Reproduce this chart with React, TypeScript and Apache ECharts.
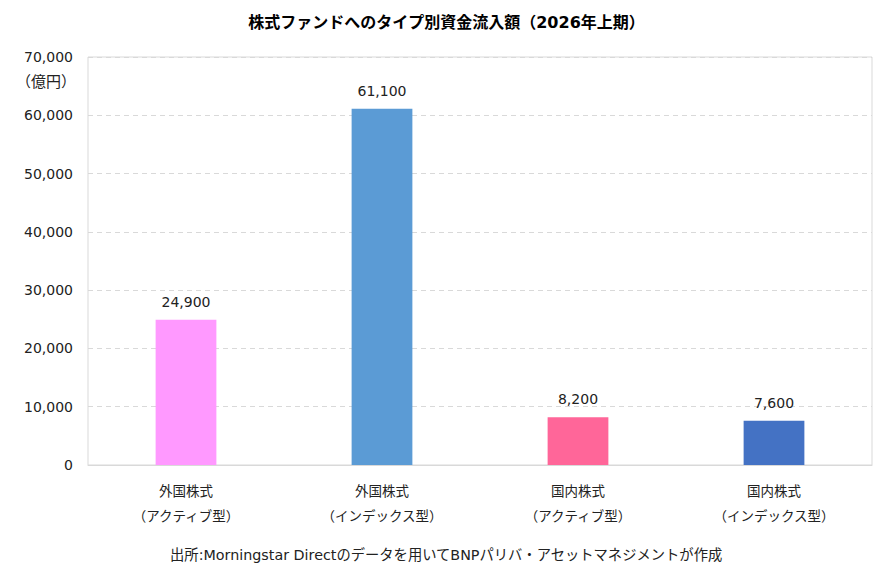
import React, { useEffect, useRef } from "react";
import * as echarts from "echarts";

const categories = [
  "外国株式\n（アクティブ型）",
  "外国株式\n（インデックス型）",
  "国内株式\n（アクティブ型）",
  "国内株式\n（インデックス型）",
];
const values = [24900, 61100, 8200, 7600];
const barColors = ["#FF99FF", "#5B9BD5", "#FF6699", "#4472C4"];

const FONT = "'DejaVu Sans', 'Noto Sans CJK JP', sans-serif";
const CJK = "'Noto Sans CJK JP', 'DejaVu Sans', sans-serif";

export default function App() {
  const ref = useRef<HTMLDivElement>(null);
  useEffect(() => {
    if (!ref.current) return;
    const chart = echarts.init(ref.current, undefined, { renderer: "svg" });
    chart.setOption({
      animation: false,
      backgroundColor: "#fff",
      textStyle: { fontFamily: FONT },
      title: {
        text: "株式ファンドへのタイプ別資金流入額（2026年上期）",
        left: "center",
        top: 9,
        textStyle: { fontSize: 16, fontWeight: "bold", color: "#000", fontFamily: FONT },
      },
      grid: {
        left: 88,
        right: 21,
        top: 57,
        bottom: 111,
        show: true,
        borderColor: "#d9d9d9",
        borderWidth: 1,
      },
      xAxis: {
        type: "category",
        data: categories,
        axisLine: { show: true, lineStyle: { color: "#d9d9d9" } },
        axisTick: { show: false },
        axisLabel: {
          color: "#222",
          fontSize: 13.5,
          lineHeight: 25,
          margin: 12,
          fontFamily: CJK,
        },
      },
      yAxis: {
        type: "value",
        min: 0,
        max: 70000,
        interval: 10000,
        axisLine: { show: false },
        axisTick: { show: false },
        splitLine: { lineStyle: { color: "#d9d9d9", type: [5, 4] } },
        axisLabel: {
          color: "#222",
          fontSize: 14,
          margin: 15,
          fontFamily: FONT,
          formatter: (v: number) => v.toLocaleString("en-US"),
        },
      },
      series: [
        {
          type: "bar",
          data: values.map((v, i) => ({ value: v, itemStyle: { color: barColors[i] } })),
          barWidth: "31%",
          label: {
            show: true,
            position: "top",
            distance: 11,
            color: "#222",
            fontSize: 14,
            fontFamily: FONT,
            formatter: (p: any) => Number(p.value).toLocaleString("en-US"),
          },
        },
      ],
      graphic: [
        {
          type: "text",
          right: 893 - 76,
          top: 73,
          style: { text: "（億円）", fontSize: 15, fill: "#222", fontFamily: CJK },
        },
        {
          type: "text",
          left: "center",
          top: 548,
          style: {
            text: "出所:Morningstar Directのデータを用いてBNPパリバ・アセットマネジメントが作成",
            fontSize: 14.3,
            fill: "#222",
            fontFamily: FONT,
          },
        },
      ],
    });
    return () => chart.dispose();
  }, []);
  return <div ref={ref} style={{ width: 893, height: 576, position: "absolute", left: 0, top: 0 }} />;
}
